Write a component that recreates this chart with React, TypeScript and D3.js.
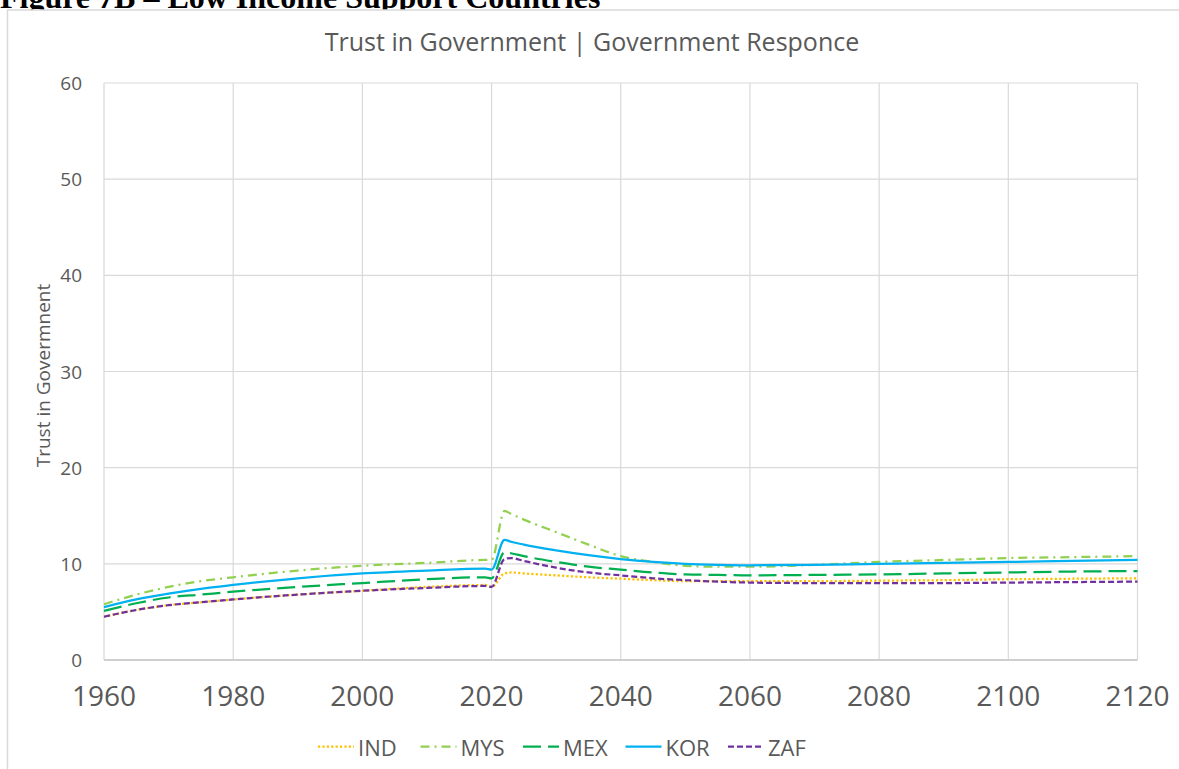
import React from "react";
import * as d3 from "d3";

const years = [1960, 1965, 1970, 1975, 1980, 1990, 2000, 2010, 2019, 2020, 2022, 2023, 2025, 2030, 2035, 2040, 2045, 2050, 2055, 2060, 2070, 2080, 2090, 2100, 2110, 2120];

const IND = [4.5, 5.2, 5.7, 6.0, 6.3, 6.8, 7.2, 7.6, 7.8, 7.6, 9.0, 9.1, 9.0, 8.8, 8.6, 8.45, 8.3, 8.2, 8.2, 8.2, 8.2, 8.25, 8.3, 8.4, 8.45, 8.5];
const MYS = [5.8, 6.8, 7.6, 8.2, 8.6, 9.3, 9.8, 10.1, 10.4, 10.4, 15.5, 15.2, 14.6, 13.3, 12.0, 10.8, 10.2, 9.8, 9.7, 9.7, 9.9, 10.2, 10.4, 10.6, 10.7, 10.8];
const MEX = [5.1, 5.9, 6.5, 6.8, 7.1, 7.6, 8.0, 8.4, 8.6, 8.5, 11.2, 11.1, 10.8, 10.2, 9.7, 9.4, 9.1, 8.9, 8.85, 8.8, 8.85, 8.9, 9.0, 9.1, 9.2, 9.25];
const KOR = [5.5, 6.3, 6.9, 7.4, 7.8, 8.5, 9.0, 9.3, 9.5, 9.4, 12.5, 12.3, 12.0, 11.4, 10.9, 10.5, 10.2, 10.0, 9.9, 9.85, 9.9, 10.0, 10.1, 10.2, 10.3, 10.4];
const ZAF = [4.5, 5.2, 5.7, 6.0, 6.3, 6.8, 7.2, 7.5, 7.7, 7.6, 10.5, 10.6, 10.3, 9.6, 9.1, 8.8, 8.5, 8.3, 8.15, 8.05, 8.0, 8.0, 8.0, 8.05, 8.1, 8.15];

const seriesNames = ["IND", "MYS", "MEX", "KOR", "ZAF"];
const seriesValues = [IND, MYS, MEX, KOR, ZAF];
const seriesColors = ["#FFC000", "#92D050", "#00B050", "#00B0F0", "#7030A0"];
const seriesDash = ["2.2 2.2", "9 5 2 5", "18 7", "", "6 3"];

const xTicks = [1960, 1980, 2000, 2020, 2040, 2060, 2080, 2100, 2120];
const yTicks = [0, 10, 20, 30, 40, 50, 60];

const W = 1179;
const H = 769;
const font = "'Open Sans', sans-serif";
const grey = "#595959";

export default function App() {
  const x = d3.scaleLinear().domain([1960, 2120]).range([104, 1137.5]);
  const y = d3.scaleLinear().domain([0, 60]).range([660, 83]);

  const line = d3.line<number>()
    .x((d, i) => x(years[i]))
    .y(d => y(d))
    .curve(d3.curveMonotoneX);

  return (
    <svg width={W} height={H} style={{ position: "absolute", left: 0, top: 0, background: "#fff" }}>
      {/* figure caption, mostly cut off at the top */}
      <text x={0} y={8} fontFamily="'Liberation Serif', serif" fontWeight="bold" fontSize={32} fill="#000">
        Figure 7B – Low Income Support Countries
      </text>

      {/* chart box */}
      <rect x={7.5} y={10} width={1250} height={800} fill="#fff" stroke="#d9d9d9" strokeWidth={1.5} />

      <text x={592} y={51} textAnchor="middle" fontFamily={font} fontSize={25} fill={grey}>
        Trust in Government | Government Responce
      </text>

      {/* grid */}
      {yTicks.map(t => (
        <line key={"gy" + t} x1={x(1960)} x2={x(2120)} y1={y(t)} y2={y(t)} stroke="#d9d9d9" strokeWidth={1.2} />
      ))}
      {xTicks.map(t => (
        <line key={"gx" + t} x1={x(t)} x2={x(t)} y1={y(0)} y2={y(60)} stroke="#d9d9d9" strokeWidth={1.2} />
      ))}
      <line x1={x(1960)} x2={x(2120)} y1={y(0)} y2={y(0)} stroke="#cfcfcf" strokeWidth={2} />

      {/* tick labels */}
      {xTicks.map(t => (
        <text key={"tx" + t} x={x(t)} y={706} textAnchor="middle" fontFamily={font} fontSize={28} fill={grey}>
          {t}
        </text>
      ))}
      {yTicks.map(t => (
        <text key={"ty" + t} x={82} y={y(t) + 7} textAnchor="end" fontFamily={font} fontSize={19} fill={grey}>
          {t}
        </text>
      ))}

      <text transform={`translate(50, ${y(30) + 4}) rotate(-90)`} textAnchor="middle" fontFamily={font} fontSize={19} fill={grey}>
        Trust in Govermnent
      </text>

      {/* series */}
      {seriesValues.map((vals, i) => (
        <path key={seriesNames[i]} d={line(vals) || ""} fill="none" stroke={seriesColors[i]} strokeWidth={2.25}
          strokeDasharray={seriesDash[i] || undefined} />
      ))}

      {/* legend */}
      {seriesNames.map((name, i) => {
        const lx = 318 + i * 102.5;
        return (
          <g key={"lg" + name}>
            <line x1={lx} x2={lx + 36} y1={746.5} y2={746.5} stroke={seriesColors[i]} strokeWidth={2.25}
              strokeDasharray={seriesDash[i] || undefined} />
            <text x={lx + 40} y={756} fontFamily={font} fontSize={22} fill={grey}>{name}</text>
          </g>
        );
      })}
    </svg>
  );
}
